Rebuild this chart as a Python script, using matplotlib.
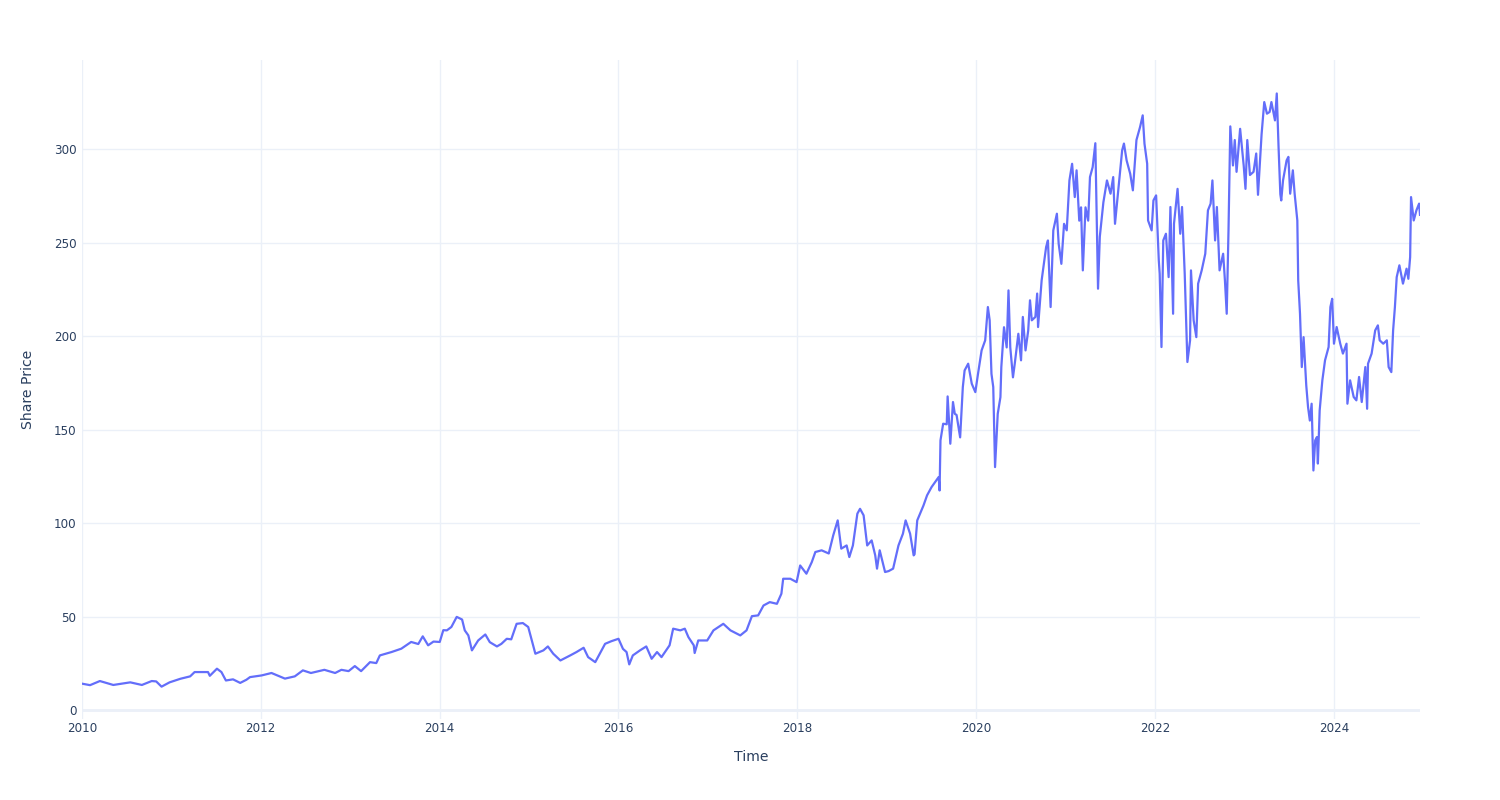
import matplotlib
matplotlib.use('Agg')
import matplotlib.pyplot as plt
import matplotlib.dates as mdates
import pandas as pd

# time as decimal years, price
years = [
    2010.00, 2010.09, 2010.20, 2010.35, 2010.54, 2010.67, 2010.78, 2010.83, 2010.89, 2010.98,
    2011.10, 2011.21, 2011.26, 2011.41, 2011.43, 2011.51, 2011.56, 2011.61, 2011.69, 2011.77,
    2011.84, 2011.88, 2012.01, 2012.12, 2012.27, 2012.38, 2012.47, 2012.56, 2012.71, 2012.83,
    2012.90, 2012.98, 2013.05, 2013.12, 2013.22, 2013.29, 2013.33, 2013.46, 2013.57, 2013.68,
    2013.76, 2013.81, 2013.87, 2013.93, 2014.00, 2014.04, 2014.08, 2014.13, 2014.19, 2014.25,
    2014.28, 2014.32, 2014.36, 2014.43, 2014.51, 2014.56, 2014.64, 2014.69, 2014.75, 2014.80,
    2014.86, 2014.93, 2014.99, 2015.03, 2015.07, 2015.16, 2015.21, 2015.27, 2015.35, 2015.46,
    2015.53, 2015.61, 2015.66, 2015.74, 2015.79, 2015.85, 2015.92, 2016.00, 2016.05, 2016.09,
    2016.12, 2016.16, 2016.24, 2016.31, 2016.37, 2016.43, 2016.48, 2016.57, 2016.61, 2016.69,
    2016.74, 2016.78, 2016.84, 2016.85, 2016.89, 2016.99, 2017.06, 2017.17, 2017.25, 2017.36,
    2017.43, 2017.49, 2017.56, 2017.62, 2017.69, 2017.77, 2017.82, 2017.84, 2017.92, 2017.99,
    2018.03, 2018.10, 2018.16, 2018.20, 2018.27, 2018.35, 2018.40, 2018.45, 2018.49, 2018.55,
    2018.58, 2018.62, 2018.67, 2018.70, 2018.74, 2018.78, 2018.83, 2018.87, 2018.89, 2018.92,
    2018.98, 2019.02, 2019.07, 2019.13, 2019.18, 2019.21, 2019.26, 2019.30, 2019.31, 2019.34,
    2019.41, 2019.45, 2019.50, 2019.58, 2019.59, 2019.60, 2019.63, 2019.67, 2019.68, 2019.71,
    2019.74, 2019.76, 2019.78, 2019.82, 2019.85, 2019.87, 2019.91, 2019.95, 2019.99, 2020.02,
    2020.06, 2020.10, 2020.13, 2020.15, 2020.17, 2020.19, 2020.21, 2020.24, 2020.27, 2020.28,
    2020.31, 2020.34, 2020.36, 2020.38, 2020.41, 2020.43, 2020.47, 2020.50, 2020.52, 2020.55,
    2020.58, 2020.60, 2020.62, 2020.66, 2020.68, 2020.69, 2020.73, 2020.75, 2020.78, 2020.80,
    2020.83, 2020.86, 2020.90, 2020.92, 2020.95, 2020.98, 2021.01, 2021.04, 2021.07, 2021.10,
    2021.12, 2021.15, 2021.17, 2021.19, 2021.22, 2021.25, 2021.27, 2021.30, 2021.33, 2021.35,
    2021.36, 2021.38, 2021.42, 2021.46, 2021.50, 2021.53, 2021.55, 2021.59, 2021.63, 2021.65,
    2021.68, 2021.72, 2021.75, 2021.79, 2021.83, 2021.86, 2021.88, 2021.91, 2021.92, 2021.96,
    2021.98, 2022.01, 2022.04, 2022.05, 2022.07, 2022.09, 2022.12, 2022.15, 2022.17, 2022.20,
    2022.21, 2022.25, 2022.28, 2022.30, 2022.33, 2022.36, 2022.39, 2022.40, 2022.43, 2022.46,
    2022.48, 2022.52, 2022.56, 2022.59, 2022.62, 2022.64, 2022.67, 2022.69, 2022.72, 2022.76,
    2022.78, 2022.80, 2022.82, 2022.84, 2022.87, 2022.89, 2022.91, 2022.95, 2022.99, 2023.01,
    2023.03, 2023.06, 2023.10, 2023.13, 2023.15, 2023.19, 2023.22, 2023.25, 2023.28, 2023.30,
    2023.34, 2023.36, 2023.38, 2023.40, 2023.41, 2023.43, 2023.47, 2023.49, 2023.51, 2023.54,
    2023.56, 2023.59, 2023.60, 2023.62, 2023.64, 2023.66, 2023.69, 2023.71, 2023.73, 2023.75,
    2023.77, 2023.79, 2023.81, 2023.82, 2023.84, 2023.87, 2023.90, 2023.94, 2023.96, 2023.98,
    2024.00, 2024.03, 2024.07, 2024.10, 2024.14, 2024.15, 2024.18, 2024.22, 2024.25, 2024.28,
    2024.31, 2024.35, 2024.37, 2024.38, 2024.42, 2024.46, 2024.49, 2024.51, 2024.55, 2024.59,
    2024.61, 2024.64, 2024.66, 2024.68, 2024.70, 2024.73, 2024.77, 2024.81, 2024.83, 2024.85,
    2024.86, 2024.89, 2024.92, 2024.95, 2024.96,
]
price = [
    14.3, 13.5, 15.7, 13.6, 15.0, 13.6, 15.7, 15.5, 12.7, 15.0,
    16.9, 18.2, 20.5, 20.5, 18.5, 22.3, 20.5, 16.0, 16.6, 14.7,
    16.4, 17.8, 18.7, 20.0, 17.0, 18.2, 21.4, 20.0, 21.7, 20.0,
    21.7, 21.0, 23.7, 21.0, 25.8, 25.3, 29.4, 31.2, 33.0, 36.6,
    35.5, 39.6, 34.8, 36.8, 36.6, 42.9, 42.8, 44.6, 50.0, 48.6,
    42.8, 40.1, 32.1, 37.4, 40.6, 36.5, 34.2, 35.6, 38.3, 38.0,
    46.3, 46.7, 44.6, 37.4, 30.3, 32.1, 34.2, 30.3, 26.7, 29.4,
    31.2, 33.5, 28.5, 25.8, 30.3, 35.6, 37.0, 38.3, 32.9, 31.2,
    24.6, 29.4, 32.1, 34.2, 27.6, 31.2, 28.5, 34.8, 43.7, 42.8,
    43.7, 39.2, 34.8, 30.7, 37.4, 37.4, 42.8, 46.3, 42.8, 40.1,
    42.8, 50.4, 50.8, 56.1, 57.9, 57.0, 62.4, 70.4, 70.4, 68.6,
    77.5, 73.1, 79.3, 84.7, 85.6, 83.9, 93.6, 101.6, 86.5, 88.2,
    82.0, 88.2, 105.2, 107.8, 104.3, 88.2, 90.9, 82.9, 75.8, 85.6,
    74.0, 74.5, 75.8, 88.2, 94.5, 101.6, 94.5, 82.9, 83.5, 101.6,
    109.6, 115.0, 119.4, 124.8, 117.6, 144.4, 153.3, 153.0, 167.9, 142.6,
    164.9, 158.6, 158.0, 146.0, 172.9, 181.8, 185.4, 174.7, 170.2, 180.0,
    192.5, 197.9, 215.7, 208.6, 180.0, 172.9, 130.1, 158.6, 167.5, 183.6,
    204.9, 194.1, 224.6, 194.1, 178.1, 185.4, 201.4, 187.2, 210.4, 192.5,
    203.1, 219.3, 208.6, 210.4, 222.9, 205.0, 230.0, 237.0, 247.8, 251.3,
    215.7, 256.7, 265.6, 249.5, 238.8, 260.2, 256.7, 283.4, 292.3, 274.5,
    288.8, 261.9, 269.0, 235.3, 269.0, 261.9, 285.2, 290.5, 303.3, 253.3,
    225.5, 253.3, 271.7, 283.4, 276.3, 285.2, 260.2, 279.9, 299.5, 303.1,
    294.1, 287.0, 278.1, 305.0, 311.9, 318.2, 303.0, 292.3, 262.0, 256.7,
    272.7, 275.4, 240.6, 233.5, 194.3, 251.3, 254.9, 231.7, 269.2, 212.1,
    260.2, 278.9, 254.9, 269.2, 233.5, 186.3, 197.9, 235.3, 208.6, 199.6,
    228.2, 235.3, 244.2, 267.4, 271.0, 283.4, 251.3, 269.2, 235.3, 244.2,
    229.9, 212.1, 256.7, 312.3, 291.4, 305.0, 288.0, 311.0, 291.4, 278.9,
    305.0, 286.3, 288.0, 297.8, 275.7, 308.0, 325.3, 319.1, 320.0, 325.3,
    315.5, 329.9, 301.3, 276.0, 272.7, 283.4, 294.1, 296.0, 276.3, 288.8,
    276.3, 262.0, 229.9, 212.1, 183.6, 199.6, 173.8, 162.2, 155.0, 164.0,
    128.3, 144.4, 146.2, 132.0, 160.4, 176.5, 187.2, 194.3, 215.7, 220.1,
    196.1, 205.0, 196.1, 190.8, 196.1, 164.0, 176.5, 167.6, 165.8, 178.3,
    164.9, 183.6, 161.3, 185.4, 190.8, 203.2, 205.9, 197.9, 196.1, 197.9,
    183.6, 180.9, 203.2, 215.7, 231.7, 238.0, 228.2, 236.2, 230.8, 242.4,
    274.5, 262.0, 267.4, 271.0, 265.0,
]
y_ticks = [0, 50, 100, 150, 200, 250, 300]


def to_date(t):
    # decimal year -> timestamp
    y = int(t)
    start = pd.Timestamp(y, 1, 1)
    return start + (t - y) * (pd.Timestamp(y + 1, 1, 1) - start)


dates = [to_date(t) for t in years]

plt.rcParams['font.family'] = ['DejaVu Sans']
text_col = '#2a3f5f'
grid_col = '#ebf0f8'

fig = plt.figure(figsize=(15, 8), dpi=100)
ax = fig.add_axes([82 / 1500, 81 / 800, 1338 / 1500, 659 / 800])
ax.plot(dates, price, color='#636efa', lw=1.6, zorder=3)

ax.set_xlim(to_date(2010.0), to_date(2024.96))
ax.set_ylim(-4.6, 347.8)
ax.set_yticks(y_ticks)
ax.xaxis.set_major_locator(mdates.YearLocator(2))
ax.xaxis.set_major_formatter(mdates.DateFormatter('%Y'))

ax.grid(True, color=grid_col, lw=1, zorder=0)
ax.axhline(0, color=grid_col, lw=2, zorder=1)
for s in ax.spines.values():
    s.set_visible(False)
ax.tick_params(axis='both', length=0, colors=text_col, labelsize=8.6)
ax.tick_params(axis='x', pad=2.5)
ax.tick_params(axis='y', pad=4)

ax.set_xlabel('Time', color=text_col, fontsize=10.1, labelpad=10.5)
ax.set_ylabel('Share Price', color=text_col, fontsize=10.1, labelpad=13.5)

fig.savefig('out.png', dpi=100)
